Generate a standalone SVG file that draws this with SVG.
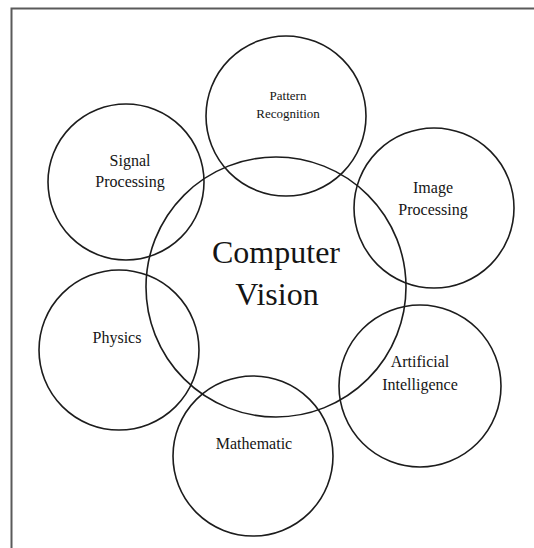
<svg xmlns="http://www.w3.org/2000/svg" width="534" height="548" viewBox="0 0 534 548">
  <style>
    .ring { fill: none; stroke: #1c1c1c; stroke-width: 1.6; }
    .label { font-size: 16px; fill: #151515; text-anchor: middle; }
    .small { font-size: 13px; }
    .title { font-size: 32px; }
    .frame { fill: none; stroke: #5a5a5a; stroke-width: 2; }
  </style>

  <rect width="534" height="548" fill="#ffffff"/>
  <!-- page frame: open to the right and bottom -->
  <path class="frame" d="M534 8.5 H11.5 V548"/>

  <g font-family="Liberation Serif, Times New Roman, Times, serif">
    <g id="computer-vision">
      <circle class="ring" cx="276" cy="287" r="130"/>
      <text class="label title" x="276" y="263">Computer</text>
      <text class="label title" x="277" y="305">Vision</text>
    </g>

    <g id="pattern-recognition">
      <circle class="ring" cx="286" cy="116" r="80"/>
      <text class="label small" x="288" y="99.5">Pattern</text>
      <text class="label small" x="288" y="117.5">Recognition</text>
    </g>

    <g id="signal-processing">
      <circle class="ring" cx="126" cy="182" r="78"/>
      <text class="label" x="130" y="166">Signal</text>
      <text class="label" x="130" y="187">Processing</text>
    </g>

    <g id="image-processing">
      <circle class="ring" cx="434" cy="208" r="80"/>
      <text class="label" x="433" y="193">Image</text>
      <text class="label" x="433" y="215">Processing</text>
    </g>

    <g id="physics">
      <circle class="ring" cx="119" cy="350" r="80"/>
      <text class="label" x="117" y="343">Physics</text>
    </g>

    <g id="artificial-intelligence">
      <circle class="ring" cx="420" cy="386" r="81"/>
      <text class="label" x="420" y="367">Artificial</text>
      <text class="label" x="420" y="390">Intelligence</text>
    </g>

    <g id="mathematic">
      <circle class="ring" cx="253" cy="456" r="80"/>
      <text class="label" x="254" y="449">Mathematic</text>
    </g>
  </g>
</svg>
